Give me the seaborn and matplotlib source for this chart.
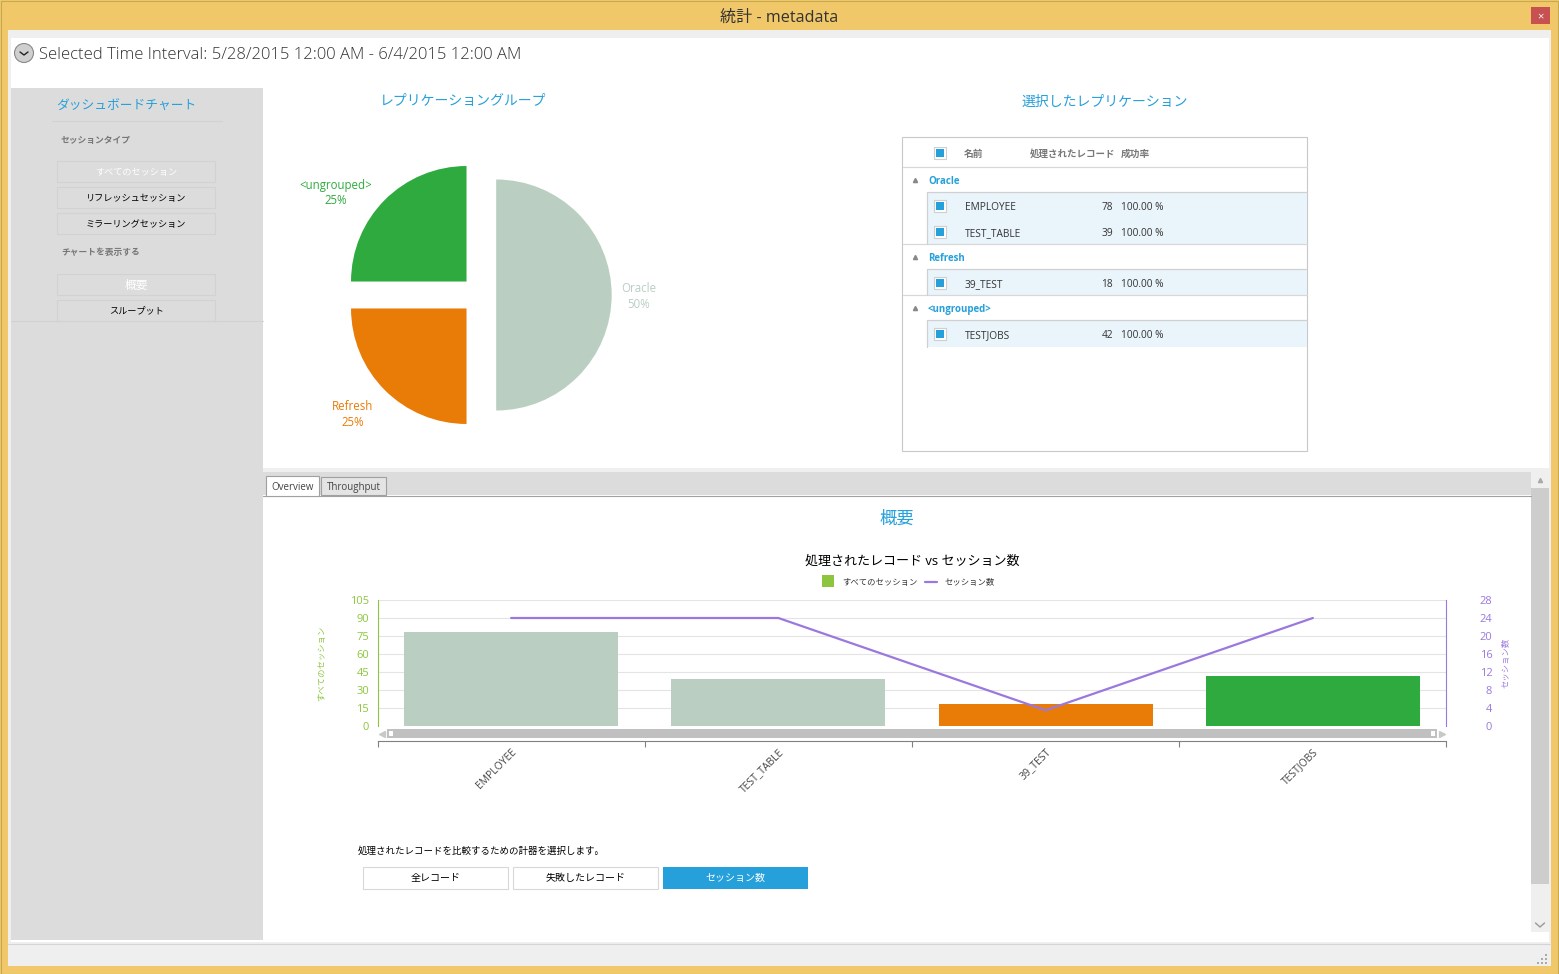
import matplotlib
matplotlib.use('Agg')
import matplotlib.pyplot as plt
from matplotlib.patches import Rectangle, Circle
import pandas as pd
import seaborn as sns

# datos del grafico
session_names = ['EMPLOYEE', 'TEST_TABLE', '39_TEST', 'TESTJOBS']
records = [78, 39, 18, 42]
session_counts = [24, 24, 3.5, 24]
success = ['100.00 %', '100.00 %', '100.00 %', '100.00 %']
bar_colors = ['#bacfc2', '#bacfc2', '#e97b07', '#2eaa3f']

pie_groups = ['Oracle', '<ungrouped>', 'Refresh']
pie_values = [50, 25, 25]
pie_colors = ['#bacfc2', '#2eaa3f', '#e97b07']

left_ticks = [0, 15, 30, 45, 60, 75, 90, 105]
right_ticks = [0, 4, 8, 12, 16, 20, 24, 28]

BLUE = '#26a0da'
GREEN = '#8cc63f'
PURPLE = '#9a78de'
YELLOW = '#f0c869'
GRAY = '#dcdcdc'
W, H = 1559, 974

sns.set_theme(style='white')
plt.rcParams['font.family'] = ['Open Sans', 'Noto Sans CJK JP', 'DejaVu Sans']


def pixel_axes(x0, y0, x1, y1):
    return fig.add_axes([x0 / W, 1 - y1 / H, (x1 - x0) / W, (y1 - y0) / H])


def box(x0, y0, x1, y1, color, edge='none', lw=0.8):
    bg.add_patch(Rectangle((x0, y0), x1 - x0, y1 - y0, facecolor=color, edgecolor=edge, linewidth=lw))


def label(x, y, s, size=8, color='#333333', ha='center', **kw):
    # el centro vertical de matplotlib queda 2 px por encima
    bg.text(x, y + 2, s, fontsize=size, color=color, ha=ha, va='center', **kw)


fig = plt.figure(figsize=(W / 100, H / 100), dpi=100, facecolor=YELLOW)

# ventana
bg = fig.add_axes([0, 0, 1, 1], zorder=0)
bg.set_xlim(0, W)
bg.set_ylim(H, 0)
bg.axis('off')
box(0.5, 0.5, W - 0.5, H - 0.5, YELLOW, edge='#c9a94f')
box(8, 30, 1551, 966, '#efefef')
box(11, 38, 1549, 942, 'white')
box(11, 88, 263, 940, GRAY)
box(263, 468, 1549, 472, '#efefef')
box(263, 472, 1531, 495, GRAY)
box(1531, 472, 1549, 932, '#efefef')
box(1531, 488, 1549, 884, '#cdcdcd')
bg.plot([8, 1551], [944, 944], color='#d4d4d4', lw=0.8)
box(1531, 7, 1550, 24, '#c75050')
label(1540.5, 15, '×', size=8, color='white')
label(779, 16, '統計 - metadata', size=11.6, color='#333333')
bg.add_patch(Circle((24, 53), 9.5, facecolor='#cfcfcf', edgecolor='#888888', lw=0.8))
bg.plot([20, 24, 28], [52, 55, 52], color='#222222', lw=1)
label(39, 53, 'Selected Time Interval: 5/28/2015 12:00 AM - 6/4/2015 12:00 AM', size=11.95, ha='left',
      color='#333333', fontweight='light')

# panel izquierdo
label(126, 103, 'ダッシュボードチャート', size=9.2, color=BLUE)
bg.plot([52, 222], [120.5, 120.5], color='#d2d2d2', lw=0.8)
label(61, 138, 'セッションタイプ', size=6.3, ha='left', color='#777777', fontweight='bold')
label(61, 251, 'チャートを表示する', size=6.3, ha='left', color='#777777', fontweight='bold')
nav = [(161, 'すべてのセッション', 'white', 6.6), (187, 'リフレッシュセッション', 'black', 6.6),
       (213, 'ミラーリングセッション', 'black', 6.6), (274, '概要', 'white', 8.5), (300, 'スループット', 'black', 6.6)]
for y, s, c, sz in nav:
    box(57, y, 215, y + 21, GRAY, edge='#d2d2d2')
    label(136, y + 9, s, size=sz, color=c)
bg.plot([11, 263], [321, 321], color='#d2d2d2', lw=0.8)

# tarta
label(463, 100, 'レプリケーショングループ', size=10, color=BLUE)
label(1105, 100, '選択したレプリケーション', size=10, color=BLUE)
ax_pie = pixel_axes(330, 145, 630, 445)
ax_pie.pie(pie_values, colors=pie_colors, startangle=-90, counterclock=True,
           explode=[0.14, 0.165, 0.165], radius=1, wedgeprops={'linewidth': 0})
ax_pie.set_xlim(-150 / 115.5, 150 / 115.5)
ax_pie.set_ylim(-150 / 115.5, 150 / 115.5)
ax_pie.patch.set_alpha(0)
pie_labels = [(639, 295, pie_colors[0]), (336, 192, pie_colors[1]), (353, 414, pie_colors[2])]
for (x, y, c), g, v in zip(pie_labels, pie_groups, pie_values):
    label(x, y - 9, g, size=8.3, color=c)
    label(x, y + 7, f'{v}%', size=8.3, color=c)

# tabla
box(902.5, 137, 1307.5, 451, 'white', edge='#c8c8c8')
for y0, y1 in [(193, 244), (270, 295), (321, 347)]:
    box(928, y0, 1307, y1, '#e9f4fb')
for y in [167, 244, 295]:
    bg.plot([903, 1307], [y, y], color='#d8d8d8', lw=0.9)
for y in [192, 269, 320]:
    bg.plot([928, 1307], [y, y], color='#d0d0d0', lw=0.9)
for y0, y1 in [(192, 244), (269, 295), (320, 347)]:
    bg.plot([927.5, 927.5], [y0, y1], color='#d0d0d0', lw=0.9)


def checkbox(y):
    box(934.5, y - 6.5, 946.5, y + 5.5, 'white', edge='#cfcfcf')
    box(936.5, y - 4.5, 944.5, y + 3.5, BLUE)


checkbox(153)
label(964, 152, '名前', size=7, ha='left', color='#777777', fontweight='bold')
label(1030, 152, '処理されたレコード', size=6.8, ha='left', color='#777777', fontweight='bold')
label(1121, 152, '成功率', size=7, ha='left', color='#777777', fontweight='bold')
for y, s in [(180, 'Oracle'), (257, 'Refresh'), (308, '<ungrouped>')]:
    bg.plot([915], [y], marker='^', ms=3, color='#888888')
    label(928, y - 0.5, s, size=7, ha='left', color=BLUE, fontweight='bold')
rows_y = [206, 232, 283, 334]
for y, n, r, p in zip(rows_y, session_names, records, success):
    checkbox(y)
    label(965, y - 0.5, n, size=7.3, ha='left')
    label(1113, y - 0.5, str(r), size=7.3, ha='right')
    label(1121, y - 0.5, p, size=7.3, ha='left')

# pestanas
box(266, 476, 319, 496, 'white', edge='#a0a0a0')
box(321, 477, 386, 495, '#e4e4e4', edge='#a0a0a0')
label(292.5, 485.5, 'Overview', size=7, color='#444444')
label(353.5, 485.5, 'Throughput', size=7, color='#444444')
bg.plot([263, 1531], [495.5, 495.5], color='#a0a0a0', lw=0.8)
box(267, 495, 318, 497, 'white')
bg.plot([1540], [480], marker='^', ms=3, color='#aaaaaa')
bg.plot([1535.5, 1540, 1544.5], [923, 927, 923], color='#999999', lw=1)

label(897, 518, '概要', size=12.5, color=BLUE)
label(912, 559, '処理されたレコード vs セッション数', size=9.4, color='black')
box(822, 575, 834, 587, GREEN)
label(842, 581, 'すべてのセッション', size=6, ha='left')
bg.plot([925, 937], [581.5, 581.5], color=PURPLE, lw=1.6)
label(944, 581, 'セッション数', size=6, ha='left')

# barras + linea
df = pd.DataFrame({'name': session_names, 'records': records, 'sessions': session_counts})
ax = pixel_axes(377.5, 600, 1446.5, 726)
ax.patch.set_alpha(0)
sns.barplot(data=df, x='name', y='records', hue='name', palette=bar_colors, legend=False,
            width=0.8, saturation=1, linewidth=0, ax=ax, zorder=3)
ax.set_xlim(-0.5, 3.5)
ax.set_ylim(0, 105)
ax.set_yticks(left_ticks)
ax.grid(axis='y', color='#e4e4e4', lw=0.8)
ax.set_axisbelow(True)
ax.tick_params(axis='y', length=0, pad=6, labelsize=8, labelcolor=GREEN)
ax.tick_params(axis='x', length=0, labelbottom=False)
ax.set_xlabel('')
ax.set_ylabel('すべてのセッション', fontsize=6, color=GREEN)
ax.yaxis.set_label_coords(-0.048, 0.5)
for s in ['top', 'right', 'bottom']:
    ax.spines[s].set_visible(False)
ax.spines['left'].set_color(GREEN)
ax.spines['left'].set_linewidth(0.8)

ax2 = ax.twinx()
sns.lineplot(data=df, x='name', y='sessions', color=PURPLE, lw=1.6, ax=ax2)
ax2.set_xlim(-0.5, 3.5)
ax2.set_ylim(0, 28)
ax2.set_yticks(right_ticks)
ax2.tick_params(axis='y', length=0, pad=33, labelsize=8, labelcolor=PURPLE)
for t in ax2.get_yticklabels():
    t.set_ha('right')
ax2.set_ylabel('セッション数', fontsize=6, color=PURPLE)
ax2.yaxis.set_label_coords(1.052, 0.5)
for s in ['top', 'left', 'bottom']:
    ax2.spines[s].set_visible(False)
ax2.spines['right'].set_color(PURPLE)
ax2.spines['right'].set_linewidth(0.8)
ax2.xaxis.set_visible(False)

# barra de desplazamiento del grafico
box(387, 729, 1437, 738, '#c0c0c0')
box(389, 731, 393, 736, 'white')
box(1431, 731, 1435, 736, 'white')
bg.plot([382], [733.5], marker='<', ms=4, color='#c8c8c8')
bg.plot([1442], [733.5], marker='>', ms=4, color='#c8c8c8')

# eje x separado
ax_x = pixel_axes(377.5, 740, 1446.5, 741)
ax_x.patch.set_alpha(0)
ax_x.set_xlim(-0.5, 3.5)
ax_x.set_yticks([])
ax_x.set_xticks([-0.5, 0.5, 1.5, 2.5, 3.5])
ax_x.set_xticklabels([])
ax_x.set_xticks([0, 1, 2, 3], minor=True)
ax_x.set_xticklabels(session_names, minor=True, rotation=45, ha='right', rotation_mode='anchor',
                     fontsize=7.5, color='#444444')
ax_x.tick_params(axis='x', which='major', length=4, width=0.8, color='#808080', bottom=True)
ax_x.tick_params(axis='x', which='minor', length=0, pad=4)
for s in ['top', 'left', 'right']:
    ax_x.spines[s].set_visible(False)
ax_x.spines['bottom'].set_color('#808080')
ax_x.spines['bottom'].set_linewidth(0.8)

# botones
label(358, 849.5, '処理されたレコードを比較するための計器を選択します。', size=6.8, ha='left', color='black')
box(363, 867, 508, 889, 'white', edge='#d8d8d8')
box(513, 867, 658, 889, 'white', edge='#d8d8d8')
box(663, 867, 808, 889, BLUE)
label(435.5, 877, '全レコード', size=7.2, color='black')
label(585.5, 877, '失敗したレコード', size=7.2, color='black')
label(735.5, 877, 'セッション数', size=7.2, color='white')

# agarre de la ventana
for x, y in [(1546, 955), (1542, 959), (1546, 959), (1538, 963), (1542, 963), (1546, 963)]:
    box(x - 1, y - 1, x + 1, y + 1, '#aaaaaa')

fig.savefig('out.png', dpi=100, facecolor=YELLOW)
